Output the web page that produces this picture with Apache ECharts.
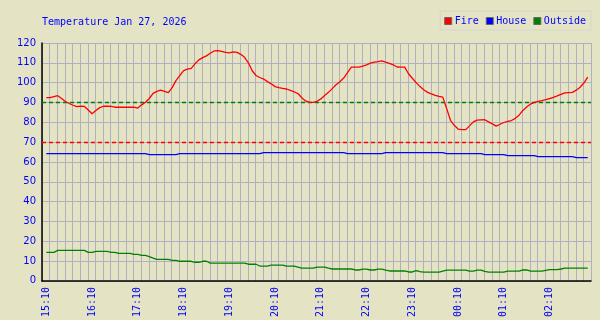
<!DOCTYPE html>
<html><head><meta charset="utf-8">
<script src="https://cdn.jsdelivr.net/npm/echarts@6/dist/echarts.min.js"></script>
<style>html,body{margin:0;padding:0;background:#e4e4c4}#c{width:600px;height:320px}</style>
</head><body><div id="c"></div>
<script>
const TITLE = 'Temperature Jan 27, 2026';
const SERIES_NAMES = ['Fire', 'House', 'Outside'];
const START_TIME = '15:10';
const STEP_MINUTES = 5;
const FIRE = [
  92.4,92.4,93.0,93.4,92.0,90.5,89.5,88.6,87.9,88.2,
  88.0,86.2,84.3,85.9,87.4,88.1,88.2,88.0,87.6,87.6,
  87.6,87.6,87.6,87.6,87.2,88.8,90.1,92.0,94.6,95.6,
  96.2,95.6,95.0,97.5,101.0,103.5,106.1,106.8,107.2,109.5,
  111.5,112.6,113.5,114.8,116.0,116.1,115.8,115.3,115.0,115.5,
  115.3,114.3,112.8,110.0,106.0,103.6,102.6,101.8,100.5,99.4,
  98.0,97.5,97.1,96.8,96.1,95.4,94.5,92.4,90.8,90.0,
  90.0,90.6,91.8,93.5,95.1,97.0,98.9,100.5,102.3,105.0,
  107.8,107.8,107.8,108.3,109.0,109.8,110.4,110.6,111.0,110.3,
  109.7,109.0,107.9,107.8,107.8,104.5,102.2,100.0,98.0,96.4,
  95.1,94.3,93.6,93.1,92.7,87.0,81.0,78.5,76.6,76.3,
  76.3,78.2,80.2,81.1,81.2,81.3,80.2,79.2,78.1,79.0,
  79.9,80.5,80.9,82.0,83.6,86.0,87.7,89.2,90.0,90.5,
  90.9,91.4,92.0,92.6,93.3,94.1,94.8,95.0,95.1,96.2,
  97.7,99.8,102.8
];
const HOUSE = [
  64.2,64.2,64.2,64.2,64.2,64.2,64.2,64.2,64.2,64.2,
  64.2,64.2,64.2,64.2,64.2,64.2,64.2,64.2,64.2,64.2,
  64.2,64.2,64.2,64.2,64.2,64.2,64.2,63.7,63.7,63.7,
  63.7,63.7,63.7,63.7,63.7,64.2,64.2,64.2,64.2,64.2,
  64.2,64.2,64.2,64.2,64.2,64.2,64.2,64.2,64.2,64.2,
  64.2,64.2,64.2,64.2,64.2,64.2,64.2,64.7,64.7,64.7,
  64.7,64.7,64.7,64.7,64.7,64.7,64.7,64.7,64.7,64.7,
  64.7,64.7,64.7,64.7,64.7,64.7,64.7,64.7,64.7,64.2,
  64.2,64.2,64.2,64.2,64.2,64.2,64.2,64.2,64.2,64.7,
  64.7,64.7,64.7,64.7,64.7,64.7,64.7,64.7,64.7,64.7,
  64.7,64.7,64.7,64.7,64.7,64.2,64.2,64.2,64.2,64.2,
  64.2,64.2,64.2,64.2,64.2,63.7,63.7,63.7,63.7,63.7,
  63.7,63.2,63.2,63.2,63.2,63.2,63.2,63.2,63.2,62.7,
  62.7,62.7,62.7,62.7,62.7,62.7,62.7,62.7,62.7,62.2,
  62.2,62.2,62.2
];
const OUTSIDE = [
  14.4,14.4,14.4,15.4,15.4,15.4,15.4,15.4,15.4,15.4,
  15.4,14.4,14.4,14.9,14.9,14.9,14.9,14.4,14.4,13.9,
  13.9,13.9,13.9,13.4,13.4,12.9,12.9,12.2,11.5,10.9,
  10.9,10.9,10.9,10.4,10.4,9.9,9.9,9.9,9.9,9.4,
  9.4,9.9,9.9,9.0,9.0,9.0,9.0,9.0,9.0,9.0,
  9.0,9.0,9.0,8.4,8.4,8.4,7.5,7.5,7.5,8.0,
  8.0,8.0,8.0,7.5,7.5,7.5,7.0,6.4,6.4,6.4,
  6.4,6.9,6.9,6.9,6.4,6.0,6.0,6.0,6.0,6.0,
  6.0,5.5,5.5,5.9,5.9,5.5,5.5,5.9,5.9,5.4,
  5.0,5.0,5.0,5.0,5.0,4.5,4.5,5.2,4.7,4.4,
  4.4,4.4,4.4,4.4,4.9,5.4,5.4,5.4,5.4,5.4,
  5.4,4.9,4.9,5.4,5.4,4.8,4.4,4.4,4.4,4.4,
  4.4,4.9,4.9,4.9,4.9,5.5,5.5,4.9,4.9,4.9,
  4.9,5.3,5.7,5.7,5.7,6.0,6.4,6.4,6.4,6.4,
  6.4,6.4,6.4
];
const TICK_LABELS = ['15:10','16:10','17:10','18:10','19:10','20:10','21:10','22:10','23:10','00:10','01:10','02:10'];
const REF_LINES = [90, 70];
const Y_MIN = 0, Y_MAX = 120, Y_STEP = 10;

// axis origin sits a few minutes before the first sample
const AXIS_OFFSET_MIN = 5.667;
const AXIS_SPAN_MIN = 720;

function toMin(t) { const [h, m] = t.split(':').map(Number); return h * 60 + m; }
const startMin = toMin(START_TIME);
function sinceStart(t) { let d = toMin(t) - startMin; if (d < 0) d += 1440; return d; }
function pts(arr) { return arr.map((v, i) => [AXIS_OFFSET_MIN + i * STEP_MINUTES, v]); }
const labelVals = TICK_LABELS.map(t => AXIS_OFFSET_MIN + sinceStart(t));

const BLUE = '#0000ff', RED = '#ff0000', GREEN = '#008000';
const MONO = 'DejaVu Sans Mono';
const LW = 1.3;

const chart = echarts.init(document.getElementById('c'), null, {renderer: 'canvas'});
chart.setOption({
  animation: false,
  backgroundColor: '#e4e4c4',
  title: {
    text: TITLE, left: 42, top: 17, padding: 0,
    textStyle: {color: BLUE, fontFamily: MONO, fontSize: 10, fontWeight: 'normal'}
  },
  legend: {
    data: SERIES_NAMES, right: 9, top: 11, icon: 'rect',
    itemWidth: 7, itemHeight: 7, itemGap: 7,
    padding: [5, 5, 4, 4], borderColor: '#d4d4cc', borderWidth: 1,
    itemStyle: {borderColor: '#666', borderWidth: 1},
    textStyle: {color: BLUE, fontFamily: MONO, fontSize: 10, padding: [0, 0, 0, -2]}
  },
  grid: {left: 42, right: 9, top: 43, bottom: 38, containLabel: false},
  xAxis: {
    type: 'value', min: 0, max: AXIS_SPAN_MIN, interval: 10,
    axisLine: {show: true, lineStyle: {color: '#000', width: 1.5}},
    axisTick: {show: false},
    splitLine: {show: true, lineStyle: {color: '#b0b0c0', width: 1}},
    axisLabel: {
      customValues: labelVals, rotate: 90, margin: 6,
      color: BLUE, fontFamily: MONO, fontSize: 10,
      formatter: v => {
        const k = Math.round((v - AXIS_OFFSET_MIN) / 60);
        return TICK_LABELS[k] || '';
      }
    }
  },
  yAxis: {
    type: 'value', min: Y_MIN, max: Y_MAX, interval: Y_STEP,
    axisLine: {show: true, lineStyle: {color: '#000', width: 1.5}},
    axisTick: {show: false},
    splitLine: {show: true, lineStyle: {color: '#b0b0c0', width: 1}},
    axisLabel: {color: BLUE, fontFamily: 'DejaVu Sans', fontSize: 10, margin: 6}
  },
  series: [
    {
      name: SERIES_NAMES[0], type: 'line', data: pts(FIRE), showSymbol: false,
      itemStyle: {color: RED}, lineStyle: {color: RED, width: LW}, z: 5,
      markLine: {
        silent: true, symbol: 'none', label: {show: false},
        data: [
          {yAxis: REF_LINES[0], lineStyle: {color: GREEN, type: [4, 3], width: LW}},
          {yAxis: REF_LINES[1], lineStyle: {color: RED, type: [4, 3], width: LW}}
        ]
      }
    },
    {
      name: SERIES_NAMES[1], type: 'line', data: pts(HOUSE), showSymbol: false,
      itemStyle: {color: BLUE}, lineStyle: {color: BLUE, width: LW}, z: 4
    },
    {
      name: SERIES_NAMES[2], type: 'line', data: pts(OUTSIDE), showSymbol: false,
      itemStyle: {color: GREEN}, lineStyle: {color: GREEN, width: LW}, z: 4
    }
  ]
});
</script></body></html>
